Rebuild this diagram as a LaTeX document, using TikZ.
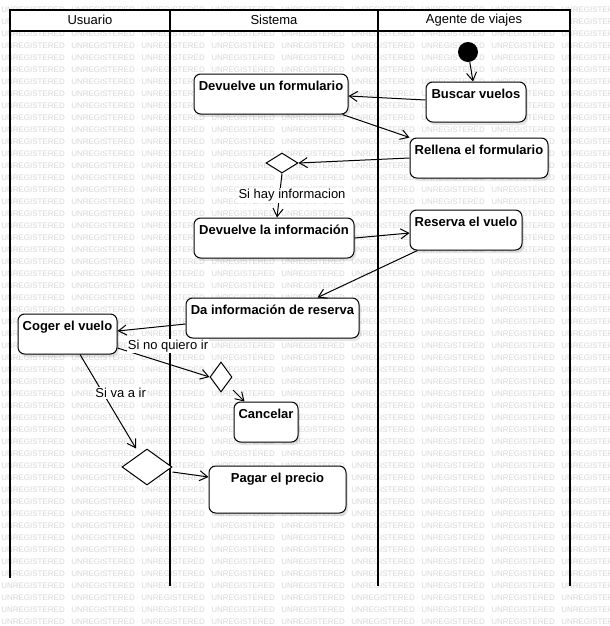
\documentclass[tikz,border=0pt]{standalone}
\usepackage{fontspec}
\setmainfont{Liberation Sans}
\usetikzlibrary{arrows.meta,shapes.geometric,calc,shadows}
\newcommand\dfont{\fontsize{9.75}{11.5}\selectfont}
\newcommand\wmfont{\fontsize{6}{7}\selectfont}
\begin{document}
\begin{tikzpicture}[x=0.75pt,y=-0.75pt,
  act/.style={draw=black, line width=0.75pt, fill=white, rounded corners=5pt, inner sep=0pt,
    drop shadow={shadow xshift=1.5pt,shadow yshift=-2.25pt,fill=black,opacity=0.10}},
  txt/.style={label={[anchor=base,label distance=-12.9pt,font=\dfont\bfseries,inner sep=0pt]north:#1}},
  dec/.style={diamond, draw=black, line width=0.75pt, fill=white, inner sep=0pt},
  arr/.style={draw=black, line width=0.75pt, -{Straight Barb[length=6pt,width=7.5pt]}},
  elab/.style={fill=white, inner sep=1pt, font=\dfont},
  lane/.style={draw=black, line width=1.5pt},
  wm/.style={anchor=west, inner sep=0pt, font=\wmfont, text=black!16},
  hdr/.style={font=\dfont, inner sep=0pt}
]
\useasboundingbox (0,0) rectangle (610,626);
\begin{scope}
  \clip (0,0) rectangle (610,626);
  \foreach \r in {0,...,51}{
    \foreach \c in {0,...,8}{
      \node[wm] (wm-\r-\c) at ({1+70*\c},{9.5+12*\r}) {UNREGISTERED};
    }
  }
\end{scope}

% pool header
\fill[white] (10,10) rectangle (570,31);
\draw[lane] (10,10) -- (570,10);
\draw[lane] (10,31) -- (570,31);
\draw[lane] (10,9.25) -- (10,578);
\draw[lane] (170,10) -- (170,586);
\draw[lane] (378,10) -- (378,586);
\draw[lane] (570,9.25) -- (570,586);
\node[hdr] (h1) at (90,20) {Usuario};
\node[hdr] (h2) at (274,20) {Sistema};
\node[hdr] (h3) at (474,20) {Agente de viajes};

% nodes
\node[circle, fill=black, minimum size=15pt, inner sep=0pt] (start) at (468,52) {};
\node[act, minimum width=75pt, minimum height=30pt, txt={Buscar vuelos}] (buscar) at (476,102) {};
\node[act, minimum width=115.5pt, minimum height=30pt, txt={Devuelve un formulario}] (devform) at (271,94) {};
\node[act, minimum width=103.5pt, minimum height=30pt, txt={Rellena el formulario}] (rellena) at (479,158) {};
\node[dec, minimum width=24pt, minimum height=15pt] (d1) at (282,163) {};
\node[act, minimum width=120pt, minimum height=30pt, txt={Devuelve la información}] (devinfo) at (274,238) {};
\node[act, minimum width=84pt, minimum height=30pt, txt={Reserva el vuelo}] (reserva) at (466,230) {};
\node[act, minimum width=129.75pt, minimum height=30pt, txt={Da información de reserva}] (dainfo) at (272.5,318) {};
\node[act, minimum width=74.25pt, minimum height=30pt, txt={Coger el vuelo}] (coger) at (67.5,334) {};
\node[dec, minimum width=16.5pt, minimum height=22.5pt] (d2) at (221,377) {};
\node[act, minimum width=48pt, minimum height=30pt, txt={Cancelar}] (cancelar) at (266,422) {};
\node[dec, minimum width=37.5pt, minimum height=27pt] (d3) at (147,467) {};
\node[act, minimum width=102.75pt, minimum height=35.25pt, txt={Pagar el precio}] (pagar) at (277.5,489.5) {};

% edges
\draw[arr] (start.-80) -- ($(buscar.north)+(-3,0)$);
\draw[arr] ($(buscar.west)+(0,-2)$) -- ($(devform.east)+(0,2)$);
\draw[arr] ($(devform.south east)+(-6,0)$) -- (rellena.north west);
\draw[arr] (rellena.west) -- (d1.east);
\draw[arr] (d1.south) -- node[elab, xshift=9.4pt] (l1) {Si hay informacion} ($(devinfo.north)+(3,0)$);
\draw[arr] (devinfo.east) -- ($(reserva.west)+(0,3)$);
\draw[arr] ($(reserva.south west)+(8,0)$) -- ($(dainfo.north)+(45,0)$);
\draw[arr] ($(dainfo.west)+(0,6)$) -- ($(coger.east)+(0,-3)$);
\draw[arr] ($(coger.east)+(0,14)$) -- node[elab, xshift=3.4pt, yshift=12.4pt] (l2) {Si no quiero ir} (d2.west);
\draw[arr] ($(d2.center)+(12,13)$) -- ($(cancelar.north west)+(11,0)$);
\draw[arr] ($(coger.south)+(12.5,0)$) -- node[elab, xshift=9.5pt, yshift=6.15pt] (l3) {Si va a ir} ($(d3.north)+(-11,0)$);
\draw[arr] ($(d3.east)+(0,5)$) -- ($(pagar.west)+(0,-12.5)$);
\end{tikzpicture}
\end{document}
